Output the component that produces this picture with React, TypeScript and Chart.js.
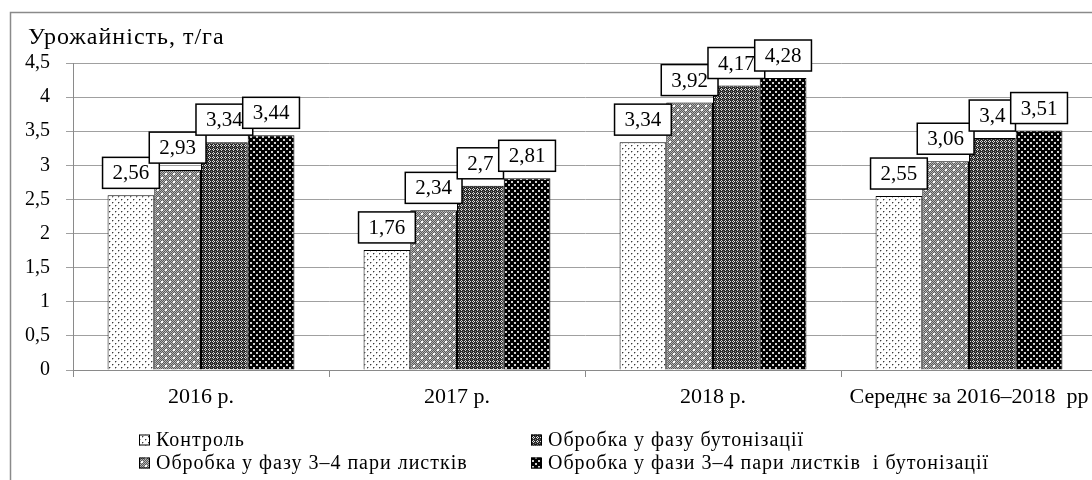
import React, { useEffect, useRef } from "react";
import { Chart, registerables } from "chart.js";

Chart.register(...registerables);

const categories = ["2016 р.", "2017 р.", "2018 р.", "Середнє за 2016–2018  рр"];
const seriesNames = [
  "Контроль",
  "Обробка у фазу 3–4 пари листків",
  "Обробка у фазу бутонізації",
  "Обробка у фази 3–4 пари листків  і бутонізації",
];
const controlValues = [2.56, 1.76, 3.34, 2.55];
const leaves34Values = [2.93, 2.34, 3.92, 3.06];
const budValues = [3.34, 2.7, 4.17, 3.4];
const combinedValues = [3.44, 2.81, 4.28, 3.51];
const yAxisTitle = "Урожайність, т/га";
const yMax = 4.5;
const yStep = 0.5;

const SERIF = "'Liberation Serif', 'Times New Roman', serif";

function makePattern(kind: number): CanvasPattern | string {
  const c = document.createElement("canvas");
  const size = kind === 2 ? 4 : kind === 1 ? 8 : 6;
  c.width = size;
  c.height = size;
  const g = c.getContext("2d")!;
  if (kind === 0) {
    g.fillStyle = "#ffffff";
    g.fillRect(0, 0, size, size);
    g.fillStyle = "#3a3a3a";
    g.fillRect(1, 1, 1, 1);
    g.fillRect(4, 4, 1, 1);
    g.fillStyle = "#b8b8b8";
    g.fillRect(2, 1, 1, 1);
    g.fillRect(5, 4, 1, 1);
    g.fillRect(1, 2, 1, 1);
    g.fillRect(4, 5, 1, 1);
  } else if (kind === 1) {
    for (let x = 0; x < size; x++) {
      for (let y = 0; y < size; y++) {
        g.fillStyle = (x + y) % 2 ? "#5a5a5a" : "#b4b4b4";
        g.fillRect(x, y, 1, 1);
      }
    }
    g.fillStyle = "#ffffff";
    g.fillRect(1, 1, 2, 2);
    g.fillRect(5, 5, 2, 2);
  } else if (kind === 2) {
    g.fillStyle = "#2a2a2a";
    g.fillRect(0, 0, size, size);
    g.fillStyle = "#dcdcdc";
    g.fillRect(1, 0, 1, 1);
    g.fillRect(0, 1, 1, 1);
    g.fillRect(2, 1, 1, 1);
    g.fillRect(1, 2, 1, 1);
    g.fillStyle = "#7a7a7a";
    g.fillRect(3, 3, 1, 1);
  } else {
    g.fillStyle = "#000000";
    g.fillRect(0, 0, size, size);
    g.fillStyle = "#d0d0d0";
    g.fillRect(1, 1, 2, 2);
    g.fillRect(4, 4, 2, 2);
  }
  const pat = g.createPattern(c, "repeat");
  return pat || "#888";
}

export default function App() {
  const ref = useRef<HTMLCanvasElement | null>(null);

  useEffect(() => {
    if (!ref.current) return;
    const patterns = [0, 1, 2, 3].map((k) => makePattern(k));
    const allValues = [controlValues, leaves34Values, budValues, combinedValues];

    const framePlugin = {
      id: "frame",
      beforeDraw(chart: any) {
        const ctx = chart.ctx;
        ctx.save();
        ctx.fillStyle = "#ffffff";
        ctx.fillRect(0, 0, chart.width, chart.height);
        ctx.strokeStyle = "#8a8a8a";
        ctx.lineWidth = 1.5;
        ctx.strokeRect(10.5, 12.5, 3000, 3000);
        ctx.fillStyle = "#000";
        ctx.font = `24px ${SERIF}`;
        (ctx as any).letterSpacing = "1px";
        ctx.textBaseline = "alphabetic";
        ctx.textAlign = "left";
        ctx.fillText(yAxisTitle, 28, 44);
        ctx.restore();
      },
    };

    const labelPlugin = {
      id: "boxLabels",
      afterDatasetsDraw(chart: any) {
        const ctx = chart.ctx;
        ctx.save();
        ctx.font = `21px ${SERIF}`;
        ctx.textAlign = "center";
        ctx.textBaseline = "middle";
        chart.data.datasets.forEach((ds: any, i: number) => {
          const meta = chart.getDatasetMeta(i);
          meta.data.forEach((bar: any, j: number) => {
            const v = ds.data[j];
            const text = String(v).replace(".", ",");
            const tw = ctx.measureText(text).width;
            const w = tw + 20;
            const h = 31;
            const x = bar.x - w / 2;
            const y = bar.y - 7 - h;
            ctx.fillStyle = "#ffffff";
            ctx.fillRect(x, y, w, h);
            ctx.strokeStyle = "#000";
            ctx.lineWidth = 1.5;
            ctx.strokeRect(x, y, w, h);
            ctx.fillStyle = "#000";
            ctx.fillText(text, bar.x, y + h / 2 + 1);
          });
        });
        ctx.restore();
      },
    };

    const legendPlugin = {
      id: "customLegend",
      afterDraw(chart: any) {
        const ctx = chart.ctx;
        ctx.save();
        ctx.font = `20px ${SERIF}`;
        (ctx as any).letterSpacing = "1px";
        ctx.textBaseline = "middle";
        ctx.textAlign = "left";
        const slots = [
          { idx: 0, x: 139, y: 440 },
          { idx: 2, x: 531, y: 440 },
          { idx: 1, x: 139, y: 463 },
          { idx: 3, x: 531, y: 463 },
        ];
        slots.forEach((s) => {
          ctx.fillStyle = patterns[s.idx] as any;
          ctx.fillRect(s.x, s.y - 5.5, 11, 11);
          ctx.strokeStyle = "#000";
          ctx.lineWidth = 1;
          ctx.strokeRect(s.x + 0.5, s.y - 5, 10, 10);
          ctx.fillStyle = "#000";
          ctx.fillText(seriesNames[s.idx], s.x + 17, s.y + 1);
        });
        ctx.restore();
      },
    };

    const chart = new Chart(ref.current, {
      type: "bar",
      data: {
        labels: categories,
        datasets: allValues.map((vals, i) => ({
          label: seriesNames[i],
          data: vals,
          backgroundColor: patterns[i] as any,
          borderColor: "#000",
          borderWidth: 1,
          categoryPercentage: 0.73,
          barPercentage: 1,
        })),
      },
      options: {
        responsive: false,
        animation: false,
        devicePixelRatio: 1,
        layout: { padding: { left: 0, top: 63, right: 23, bottom: 0 } },
        plugins: {
          legend: { display: false },
          tooltip: { enabled: false },
          title: { display: false },
        },
        scales: {
          x: {
            type: "category",
            offset: true,
            grid: {
              display: true,
              drawOnChartArea: false,
              drawTicks: true,
              tickLength: 7,
              color: "#8a8a8a",
              offset: true,
            },
            border: { color: "#8a8a8a", width: 1 },
            ticks: {
              color: "#000",
              font: { family: SERIF, size: 22 },
              padding: 7,
              maxRotation: 0,
              autoSkip: false,
            },
            afterFit(scale: any) {
              scale.height = 110;
            },
          },
          y: {
            min: 0,
            max: yMax,
            ticks: {
              stepSize: yStep,
              color: "#000",
              font: { family: SERIF, size: 20 },
              padding: 16,
              callback: (v: any) => String(v).replace(".", ","),
            },
            grid: {
              color: "#a0a0a0",
              tickLength: 7,
              lineWidth: 1,
            },
            border: { color: "#8a8a8a", width: 1 },
            afterFit(scale: any) {
              scale.width = 73;
            },
          },
        },
      },
      plugins: [framePlugin, labelPlugin, legendPlugin],
    });
    return () => chart.destroy();
  }, []);

  return (
    <div
      style={{
        position: "fixed",
        left: 0,
        top: 0,
        width: 1092,
        height: 480,
        overflow: "hidden",
        background: "#fff",
      }}
    >
      <canvas ref={ref} width={1120} height={480} style={{ display: "block" }} />
    </div>
  );
}
